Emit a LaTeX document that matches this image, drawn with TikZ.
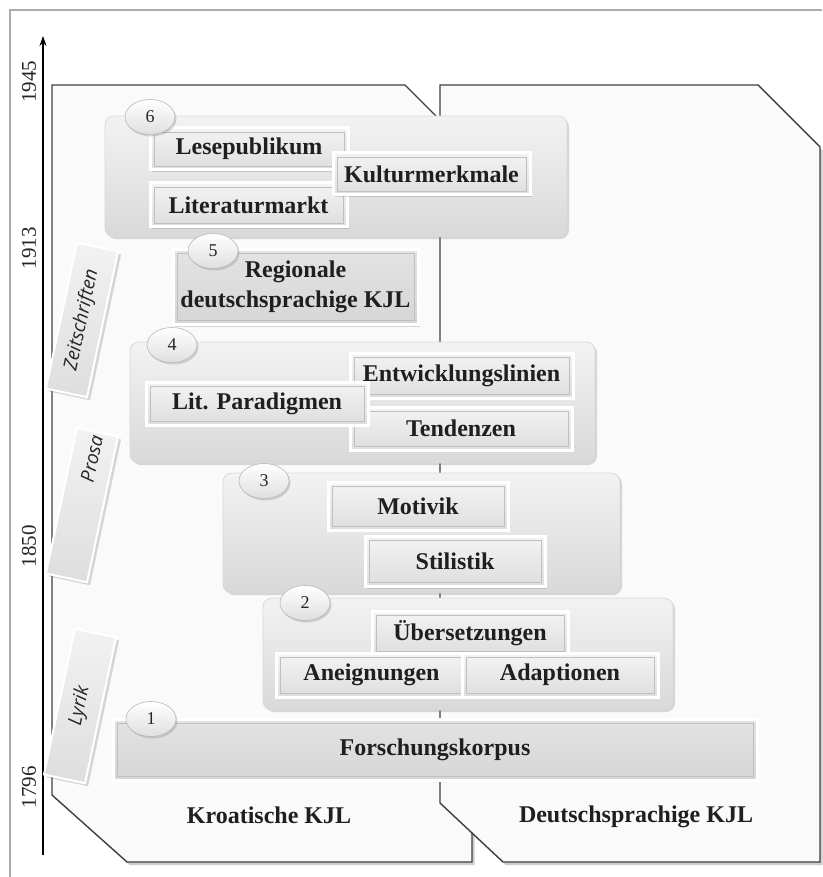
\documentclass[tikz,border=0pt]{standalone}
\usepackage{fontspec}
\setmainfont{Liberation Serif}
\newfontfamily\tabfont{Open Sans}
\usetikzlibrary{shadows,shapes.geometric,arrows.meta}
\begin{document}
\begin{tikzpicture}[x=1pt,y=-1pt,
  panel/.style={draw=black!75, line width=1.4pt, fill=gray!4,
    drop shadow={opacity=0.4, shadow xshift=2.5pt, shadow yshift=-3pt}},
  grp/.style={rectangle, rounded corners=9pt, draw=gray!30, line width=0.8pt,
    top color=gray!10, bottom color=gray!30, inner sep=0pt,
    drop shadow={opacity=0.3, shadow xshift=2pt, shadow yshift=-2pt}},
  item/.style={rectangle, draw=white, line width=3pt, top color=gray!9, bottom color=gray!26,
    inner sep=0pt, font=\bfseries\fontsize{24}{28}\selectfont, text=black!88,
    drop shadow={opacity=0.3, shadow xshift=1.5pt, shadow yshift=-2pt},
    path picture={\draw[gray!50, line width=0.6pt]
      ([xshift=4pt,yshift=-4pt]path picture bounding box.north west) rectangle
      ([xshift=-4pt,yshift=4pt]path picture bounding box.south east);}},
  darkitem/.style={item, top color=gray!22, bottom color=gray!32},
  num/.style={ellipse, draw=gray!55, line width=0.6pt, top color=white, bottom color=gray!25,
    minimum width=50pt, minimum height=35pt, inner sep=0pt,
    font=\fontsize{18}{20}\selectfont, text=black!85,
    drop shadow={opacity=0.3, shadow xshift=1.5pt, shadow yshift=-2pt}},
  tabbox/.style={rectangle, draw=white, line width=2pt, top color=gray!10, bottom color=gray!26,
    minimum width=149pt, minimum height=42pt, inner sep=0pt, rotate=78,
    font=\tabfont\itshape\fontsize{19}{22}\selectfont, text=black!85,
    drop shadow={opacity=0.3, shadow xshift=3pt, shadow yshift=-3pt}},
  year/.style={rotate=90, font=\fontsize{21}{24}\selectfont, text=black!85, inner sep=0pt},
  lang/.style={font=\bfseries\fontsize{24}{28}\selectfont, text=black!88, inner sep=0pt}
]
\useasboundingbox (0,0) rectangle (822,877);
\fill[white] (0,0) rectangle (822,877);
% frame
\draw[gray!65, line width=1.6pt] (10,877) -- (10,10) -- (822,10);
% axis
\coordinate (axb) at (43,855);
\coordinate (axt) at (43,36);
\draw[line width=1.2pt, -{Stealth[length=10pt,width=7pt]}] (axb) -- (axt);
\node[year] (y1945) at (29,82) {1945};
\node[year] (y1913) at (29,248) {1913};
\node[year] (y1850) at (29,546) {1850};
\node[year] (y1796) at (29,787) {1796};
% panels
\draw[panel] (52,85) -- (405,85) -- (472,152) -- (472,862) -- (127,862) -- (52,795) -- cycle;
\draw[panel] (440,85) -- (758,85) -- (820,147) -- (820,862) -- (503,862) -- (440,803) -- cycle;
\node[lang] (kro) at (269,815) {Kroatische KJL};
\node[lang] (deu) at (636,817) {Deutschsprachige KJL};
% tabs
\node[tabbox] (tz) at (82,320) {Zeitschriften};
\node[tabbox] (tp) at (82,505) {\hspace*{95pt}Prosa};
\node[tabbox] (tl) at (80,706) {Lyrik};
% group 6
\node[grp, minimum width=462pt, minimum height=121pt] (g6) at (336,176.5) {};
\node[item, minimum width=198pt, minimum height=42pt] (lese) at (249,149) {Lesepublikum};
\node[item, minimum width=197pt, minimum height=44pt] (litm) at (248.5,205) {Literaturmarkt};
\node[item, minimum width=197pt, minimum height=42pt] (kult) at (431.5,174) {Kulturmerkmale};
\node[num] (n6) at (150,117) {6};
% group 5
\node[darkitem, minimum width=245pt, minimum height=75pt, align=center,
  font=\bfseries\fontsize{24}{30}\selectfont] (reg) at (295.5,287) {Regionale\\deutschsprachige KJL};
\node[num] (n5) at (213,251) {5};
% group 4
\node[grp, minimum width=465pt, minimum height=121pt] (g4) at (362.5,402.5) {};
\node[item, minimum width=223pt, minimum height=45pt] (entw) at (461.5,375.5) {Entwicklungslinien};
\node[item, minimum width=222pt, minimum height=43pt] (tend) at (461,428.5) {Tendenzen};
\node[item, minimum width=222pt, minimum height=43pt] (litp) at (257,403.5) {Lit. Paradigmen};
\node[num] (n4) at (172,345) {4};
% group 3
\node[grp, minimum width=397pt, minimum height=120pt] (g3) at (421.5,533) {};
\node[item, minimum width=180pt, minimum height=48pt] (moti) at (418,506) {Motivik};
\node[item, minimum width=180pt, minimum height=50pt] (stil) at (455,561.5) {Stilistik};
\node[num] (n3) at (264,481) {3};
% group 2
\node[grp, minimum width=410pt, minimum height=112pt] (g2) at (468,654) {};
\node[item, minimum width=196pt, minimum height=44pt] (ueber) at (470,633) {Übersetzungen};
\node[item, minimum width=191pt, minimum height=44pt] (aneig) at (371.5,675) {Aneignungen};
\node[item, minimum width=196pt, minimum height=44pt] (adap) at (560,675) {Adaptionen};
\node[num] (n2) at (305,603) {2};
% group 1
\node[darkitem, minimum width=644pt, minimum height=61pt] (fors) at (435,749.5) {Forschungskorpus};
\node[num] (n1) at (151,719) {1};
\end{tikzpicture}
\end{document}
